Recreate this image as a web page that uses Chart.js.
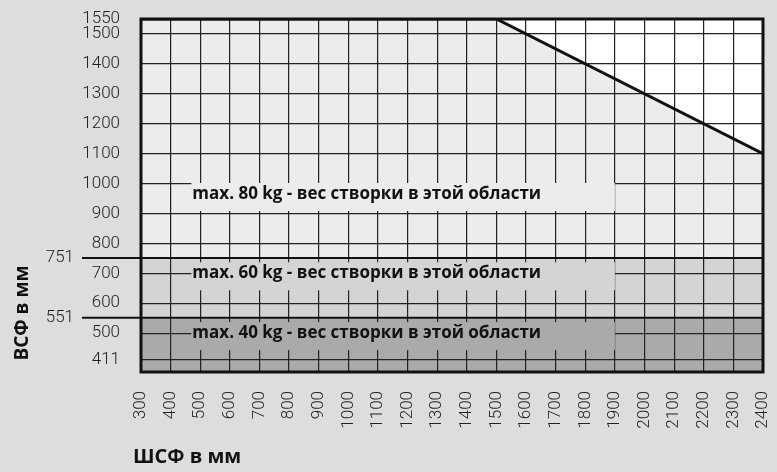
<!DOCTYPE html>
<html>
<head>
<meta charset="utf-8">
<script src="https://cdn.jsdelivr.net/npm/chart.js@4.4.0/dist/chart.umd.min.js"></script>
<style>
  html, body { margin: 0; padding: 0; background: #dcdddf; }
</style>
</head>
<body>
<canvas id="chart" width="777" height="472"></canvas>
<script>
const xTicks = [300, 400, 500, 600, 700, 800, 900, 1000, 1100, 1200, 1300, 1400,
                1500, 1600, 1700, 1800, 1900, 2000, 2100, 2200, 2300, 2400];
const yTicks = [411, 500, 600, 700, 800, 900, 1000, 1100, 1200, 1300, 1400, 1500, 1550];

// upper limit: flat up to 1500 mm width, then down to 1100 at 2400
const limitX = [300, 1500, 2400];
const limitY = [1550, 1550, 1100];

// sash weight zones: below 551 -> 40 kg, below 751 -> 60 kg, rest -> 80 kg
const zoneLimits = [551, 751];
const zoneLabels = [
    'max. 40 kg - вес створки в этой области',
    'max. 60 kg - вес створки в этой области',
    'max. 80 kg - вес створки в этой области'
];
const zoneLabelAt = [500, 700, 965];
const zoneColors = ['#a9aaac', '#d3d4d6', '#ececec'];

const X_MIN = 300, X_MAX = 2400, Y_MIN = 370, Y_MAX = 1550;

const flatLine = (v) => [{ x: X_MIN, y: v }, { x: X_MAX, y: v }];

const overlay = {
    id: 'overlay',
    afterDatasetsDraw(chart) {
        const { ctx, chartArea: a, scales: { x, y } } = chart;
        ctx.save();

        // label boxes hide the grid behind the text
        ctx.font = 'bold 17px "Open Sans"';
        ctx.textBaseline = 'middle';
        ctx.textAlign = 'left';
        const bx0 = x.getPixelForValue(470);
        const bx1 = x.getPixelForValue(1900);
        zoneLabels.forEach((txt, i) => {
            const py = y.getPixelForValue(zoneLabelAt[i]);
            ctx.fillStyle = zoneColors[i];
            ctx.fillRect(bx0, py - 11, bx1 - bx0, 28);
            ctx.fillStyle = '#111';
            ctx.fillText(txt, bx0 + 1, py);
        });

        // frame
        ctx.lineWidth = 3;
        ctx.strokeStyle = '#111';
        ctx.strokeRect(a.left, a.top, a.right - a.left, a.bottom - a.top);

        // zone limits carried out to the left with their own labels
        ctx.lineWidth = 2;
        ctx.font = '300 17px Roboto';
        ctx.textAlign = 'right';
        ctx.fillStyle = '#222';
        zoneLimits.forEach(v => {
            const py = y.getPixelForValue(v);
            ctx.beginPath();
            ctx.moveTo(82, py);
            ctx.lineTo(a.left, py);
            ctx.stroke();
            ctx.fillText(String(v), 74, py);
        });

        // axis titles
        ctx.fillStyle = '#111';
        ctx.font = 'bold 20px "Open Sans"';
        ctx.textAlign = 'left';
        ctx.fillText('ШСФ в мм', 133, 457);

        ctx.font = 'bold 19px "Open Sans"';
        ctx.translate(23, 313);
        ctx.rotate(-Math.PI / 2);
        ctx.textAlign = 'center';
        ctx.fillText('ВСФ в мм', 0, 0);

        ctx.restore();
    }
};

const tickFont = { family: 'Roboto', size: 17, weight: 300 };

new Chart(document.getElementById('chart'), {
    type: 'line',
    data: {
        datasets: [
            {
                data: flatLine(zoneLimits[0]),
                fill: 'start',
                backgroundColor: zoneColors[0],
                borderColor: '#111',
                borderWidth: 2,
                pointRadius: 0
            },
            {
                data: flatLine(zoneLimits[1]),
                fill: 'start',
                backgroundColor: zoneColors[1],
                borderColor: '#111',
                borderWidth: 2,
                pointRadius: 0
            },
            {
                data: limitX.map((v, i) => ({ x: v, y: limitY[i] })),
                fill: 'start',
                backgroundColor: zoneColors[2],
                borderColor: '#111',
                borderWidth: 3,
                pointRadius: 0
            },
            {
                data: flatLine(Y_MAX),
                fill: 'start',
                backgroundColor: '#ffffff',
                borderWidth: 0,
                pointRadius: 0
            }
        ]
    },
    options: {
        responsive: false,
        animation: false,
        layout: { padding: { top: 19, right: 14, left: 0, bottom: 0 } },
        scales: {
            x: {
                type: 'linear',
                min: X_MIN,
                max: X_MAX,
                afterBuildTicks: s => { s.ticks = xTicks.map(v => ({ value: v })); },
                afterFit: s => {
                    s.height = 100;
                    s.paddingLeft = 0;
                    s.paddingRight = 0;
                },
                ticks: {
                    autoSkip: false,
                    minRotation: 90,
                    maxRotation: 90,
                    padding: 19,
                    color: '#222',
                    font: tickFont,
                    callback: v => String(v)
                },
                grid: { color: '#222', lineWidth: 1.2, drawTicks: false },
                border: { display: false }
            },
            y: {
                type: 'linear',
                min: Y_MIN,
                max: Y_MAX,
                afterBuildTicks: s => { s.ticks = yTicks.map(v => ({ value: v })); },
                afterFit: s => {
                    s.width = 141;
                    s.paddingTop = 0;
                    s.paddingBottom = 0;
                },
                ticks: {
                    autoSkip: false,
                    padding: 21,
                    color: '#222',
                    font: tickFont,
                    callback: v => String(v)
                },
                grid: { color: '#222', lineWidth: 1.2, drawTicks: false },
                border: { display: false }
            }
        },
        plugins: {
            legend: { display: false },
            tooltip: { enabled: false },
            filler: { drawTime: 'beforeDraw' }
        }
    },
    plugins: [overlay]
});
</script>
</body>
</html>
